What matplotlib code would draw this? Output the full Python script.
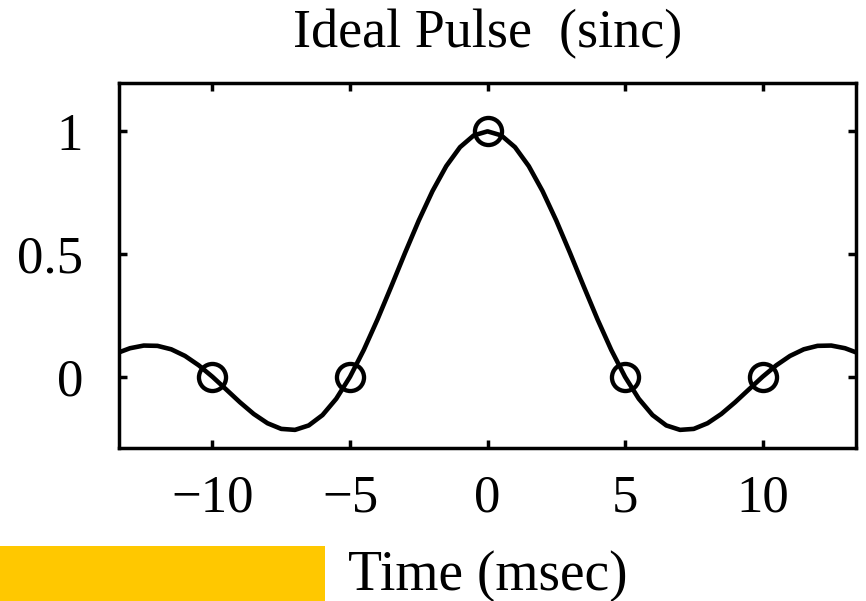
import matplotlib
matplotlib.use("Agg")
import matplotlib.pyplot as plt
from matplotlib.patches import Rectangle

plt.rcParams["font.family"] = ["Liberation Serif", "DejaVu Serif"]

# Ideal pulse samples (time in msec, amplitude)
time_ms = [-14.0, -13.5, -13.0, -12.5, -12.0, -11.5, -11.0, -10.5, -10.0,
           -9.5, -9.0, -8.5, -8.0, -7.5, -7.0, -6.5, -6.0, -5.5, -5.0,
           -4.5, -4.0, -3.5, -3.0, -2.5, -2.0, -1.5, -1.0, -0.5, 0.0,
           0.5, 1.0, 1.5, 2.0, 2.5, 3.0, 3.5, 4.0, 4.5, 5.0,
           5.5, 6.0, 6.5, 7.0, 7.5, 8.0, 8.5, 9.0, 9.5, 10.0,
           10.5, 11.0, 11.5, 12.0, 12.5, 13.0, 13.5, 14.0]
amplitude = [0.0668, 0.0954, 0.1164, 0.1273, 0.1261, 0.1120, 0.0851, 0.0468, 0.0,
             -0.0518, -0.1039, -0.1515, -0.1892, -0.2122, -0.2162, -0.1981, -0.1559, -0.0894, 0.0,
             0.1093, 0.2339, 0.3679, 0.5046, 0.6366, 0.7568, 0.8584, 0.9355, 0.9836, 1.0,
             0.9836, 0.9355, 0.8584, 0.7568, 0.6366, 0.5046, 0.3679, 0.2339, 0.1093, 0.0,
             -0.0894, -0.1559, -0.1981, -0.2162, -0.2122, -0.1892, -0.1515, -0.1039, -0.0518, 0.0,
             0.0468, 0.0851, 0.1120, 0.1261, 0.1273, 0.1164, 0.0954, 0.0668]

# Sample instants marked with circles
sample_t = [-10, -5, 0, 5, 10]
sample_v = [0, 0, 1, 0, 0]

xticks = [-10, -5, 0, 5, 10]
xtick_labels = ["\u221210", "\u22125", "0", "5", "10"]
yticks = [0, 0.5, 1]
ytick_labels = ["0", "0.5", "1"]

fig = plt.figure(figsize=(8.66, 6.01), dpi=100)
ax = fig.add_axes([0.1374, 0.2546, 0.8511, 0.6073])

ax.plot(time_ms, amplitude, color="black", lw=3.3, solid_capstyle="round",
        solid_joinstyle="round")
ax.plot(sample_t, sample_v, linestyle="none", marker="o", markersize=19.5,
        markerfacecolor="none", markeredgecolor="black", markeredgewidth=3.1)

ax.set_xlim(-13.4, 13.4)
ax.set_ylim(-0.29, 1.197)
ax.set_xticks(xticks)
ax.set_xticklabels(xtick_labels)
ax.set_yticks(yticks)
ax.set_yticklabels(ytick_labels)

for sp in ax.spines.values():
    sp.set_linewidth(2.5)
ax.tick_params(direction="in", length=5.5, width=2.5, labelsize=38,
               top=True, right=True)
ax.tick_params(axis="x", pad=19)
ax.tick_params(axis="y", pad=26)

title = ax.set_title("Ideal Pulse  (sinc)", fontsize=39, pad=0, y=1.0986)
title.set_va("baseline")

ax.set_xlabel("Time (msec)", fontsize=40)
ax.xaxis.label.set_va("baseline")
ax.xaxis.set_label_coords(0.5, -0.388)

fig.patches.append(Rectangle((0, 0), 325 / 866, 55 / 601, transform=fig.transFigure,
                             facecolor="#FFC800", edgecolor="none", zorder=0))

fig.savefig("out.png", dpi=100)
